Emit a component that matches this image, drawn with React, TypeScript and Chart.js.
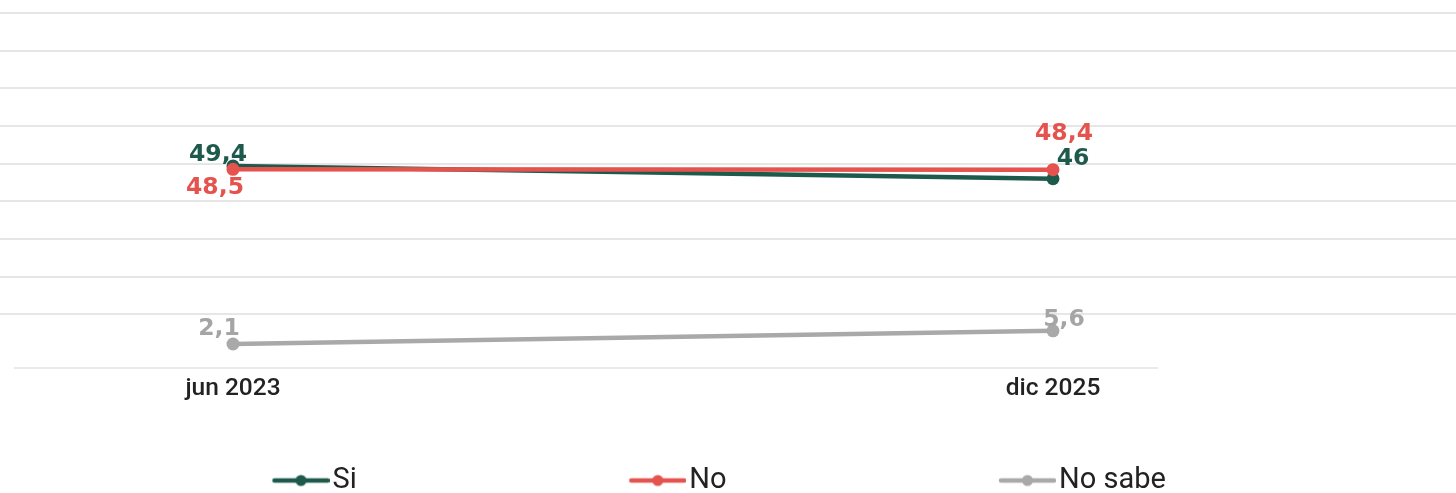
import React, { useEffect, useRef } from 'react';
import { Chart, registerables } from 'chart.js';

Chart.register(...registerables);

// ---- data ----
const categories = ['jun 2023', 'dic 2025'];
const seriesNames = ['Si', 'No', 'No sabe'];
const siValues = [49.4, 46];
const noValues = [48.5, 48.4];
const noSabeValues = [2.1, 5.6];
const yGridValues = [10, 20, 30, 40, 50, 60, 70, 80, 90];

// ---- styles ----
const seriesColors = ['#1d5a4c', '#e5534e', '#a9a9a9'];
const labelColors = ['#1d5a4c', '#e5534e', '#a5a5a5'];
const seriesOrder = [1, 0, 2];
// data-label placement (px offsets from each point)
const labelOffsets = [
  [[-15, -13], [20, -21]],
  [[-18, 17], [11, -37]],
  [[-14, -17], [11, -12]],
];

const W = 1456;
const H = 493;
const CANVAS_H = 505;
const LEGEND_BOX_W = 318;
const LEGEND_ICON_W = LEGEND_BOX_W + 23;
const LEGEND_LINE_LEN = 57;

function makeLegendIcon(color: string): HTMLCanvasElement {
  const c = document.createElement('canvas');
  c.width = LEGEND_ICON_W;
  c.height = 14;
  const g = c.getContext('2d')!;
  g.strokeStyle = color;
  g.lineWidth = 4.5;
  g.lineCap = 'round';
  g.beginPath();
  g.moveTo(LEGEND_ICON_W - LEGEND_LINE_LEN + 2, 7);
  g.lineTo(LEGEND_ICON_W - 2, 7);
  g.stroke();
  g.fillStyle = color;
  g.beginPath();
  g.arc(LEGEND_ICON_W - LEGEND_LINE_LEN / 2, 7, 5.5, 0, Math.PI * 2);
  g.fill();
  return c;
}

const fmt = (v: number) => String(v).replace('.', ',');

export default function App() {
  const ref = useRef<HTMLCanvasElement>(null);

  useEffect(() => {
    const canvas = ref.current;
    if (!canvas) return;
    const allValues = [siValues, noValues, noSabeValues];
    const icons = seriesColors.map(makeLegendIcon);

    const baselinePlugin = {
      id: 'baseline',
      beforeDatasetsDraw(chart: any) {
        const { ctx, chartArea } = chart;
        ctx.save();
        ctx.strokeStyle = '#e3e3e3';
        ctx.lineWidth = 1.5;
        ctx.beginPath();
        ctx.moveTo(14, chartArea.bottom - 0.5);
        ctx.lineTo(1158, chartArea.bottom - 0.5);
        ctx.stroke();
        ctx.restore();
      },
    };

    const dataLabelPlugin = {
      id: 'dataLabels',
      afterDatasetsDraw(chart: any) {
        const { ctx } = chart;
        ctx.save();
        ctx.font = 'bold 23.5px "DejaVu Sans"';
        ctx.textAlign = 'center';
        ctx.textBaseline = 'middle';
        chart.data.datasets.forEach((ds: any, di: number) => {
          const meta = chart.getDatasetMeta(di);
          meta.data.forEach((pt: any, i: number) => {
            const [dx, dy] = labelOffsets[di][i];
            ctx.fillStyle = labelColors[di];
            ctx.fillText(fmt(allValues[di][i]), pt.x + dx, pt.y + dy + 1.5);
          });
        });
        ctx.restore();
      },
    };

    const chart = new Chart(canvas, {
      type: 'line',
      data: {
        datasets: seriesNames.map((name, si) => ({
          label: name,
          data: allValues[si].map((v, i) => ({ x: i, y: v })),
          borderColor: seriesColors[si],
          backgroundColor: seriesColors[si],
          pointBackgroundColor: seriesColors[si],
          pointBorderColor: seriesColors[si],
          borderWidth: 4.5,
          pointRadius: 6.5,
          pointBorderWidth: 0,
          tension: 0,
          order: seriesOrder[si],
        })),
      },
      options: {
        animation: false,
        responsive: false,
        devicePixelRatio: 1,
        layout: { padding: 0, autoPadding: false },
        plugins: {
          tooltip: { enabled: false },
          legend: {
            position: 'bottom',
            align: 'start',
            labels: {
              usePointStyle: true,
              pointStyleWidth: LEGEND_BOX_W,
              padding: 0,
              color: '#222',
              font: { family: 'Roboto', size: 29 },
              generateLabels: () =>
                seriesNames.map((name, i) => ({
                  text: name,
                  pointStyle: icons[i],
                  fillStyle: seriesColors[i],
                  strokeStyle: seriesColors[i],
                  lineWidth: 0,
                  hidden: false,
                  datasetIndex: i,
                  fontColor: '#222',
                })),
            },
          },
        },
        scales: {
          x: {
            type: 'linear',
            min: -0.28415,
            max: 1.49146,
            grid: { display: false },
            border: { display: false },
            afterBuildTicks: (scale: any) => {
              scale.ticks = categories.map((_, i) => ({ value: i }));
            },
            afterFit: (scale: any) => {
              scale.height = 97.5;
            },
            ticks: {
              padding: 0,
              autoSkip: false,
              maxRotation: 0,
              color: '#222',
              font: { family: 'Roboto', weight: '500', size: 24.5, lineHeight: 1 },
              callback: (v: any) => categories[v] ?? '',
            },
          },
          y: {
            type: 'linear',
            min: -4.4,
            max: 93.47,
            afterBuildTicks: (scale: any) => {
              scale.ticks = yGridValues.map((v) => ({ value: v }));
            },
            ticks: { display: false },
            border: { display: false },
            grid: { drawTicks: false, color: '#e6e6e6', lineWidth: 2 },
          },
        },
      },
      plugins: [baselinePlugin, dataLabelPlugin],
    } as any);

    return () => chart.destroy();
  }, []);

  return (
    <div
      style={{
        position: 'absolute',
        left: 0,
        top: 0,
        width: W,
        height: H,
        overflow: 'hidden',
        background: '#fff',
      }}
    >
      <canvas ref={ref} width={W} height={CANVAS_H} style={{ display: 'block' }} />
    </div>
  );
}
